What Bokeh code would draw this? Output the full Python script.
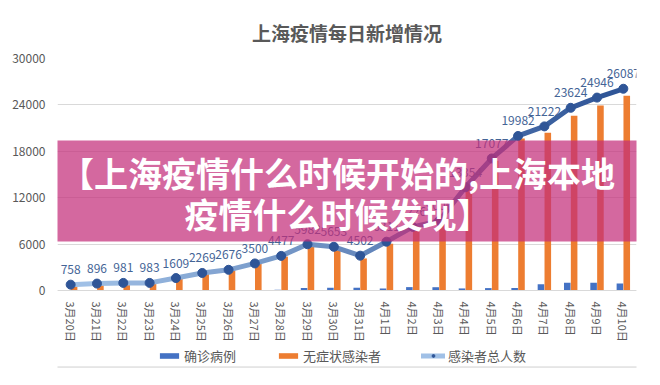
from bokeh.plotting import figure
from bokeh.models import (ColumnDataSource, Legend, LegendItem, BoxAnnotation, Label,
                          FactorRange, Range1d, FixedTicker)
from bokeh.transform import dodge
from bokeh.core.properties import value
from bokeh.embed import file_html
from bokeh.resources import INLINE

# ---- data ----
dates = ["3月20日", "3月21日", "3月22日", "3月23日", "3月24日", "3月25日", "3月26日",
         "3月27日", "3月28日", "3月29日", "3月30日", "3月31日", "4月1日", "4月2日",
         "4月3日", "4月4日", "4月5日", "4月6日", "4月7日", "4月8日", "4月9日", "4月10日"]
confirmed = [24, 31, 4, 4, 29, 38, 45, 50, 96, 326, 355, 358, 260, 438, 425, 268,
             311, 322, 824, 1015, 1006, 914]
asymptomatic = [734, 865, 977, 979, 1580, 2231, 2631, 3450, 4381, 5656, 5298, 4144,
                6051, 7788, 8581, 13086, 16766, 19660, 20398, 22609, 23937, 25173]
total = [758, 896, 981, 983, 1609, 2269, 2676, 3500, 4477, 5982, 5653, 4502, 6311,
         8226, 9006, 13354, 17077, 19982, 21222, 23624, 24946, 26087]
y_ticks = [0, 6000, 12000, 18000, 24000, 30000]

title_text = "上海疫情每日新增情况"
series_names = ["确诊病例", "无症状感染者", "感染者总人数"]
banner_lines = ["【上海疫情什么时候开始的,上海本地", "疫情什么时候发现】"]

FONT = "Noto Sans CJK SC"
GRAY = "#595959"

src = ColumnDataSource(dict(date=dates, confirmed=confirmed, asym=asymptomatic,
                            total=total, label=[str(v) for v in total]))

# frame extends below zero so that category labels and legend sit inside it
p = figure(x_range=FactorRange(*dates), y_range=Range1d(-10086, 30000),
           frame_width=579, frame_height=310, output_backend="svg", toolbar_location=None,
           min_border_left=57, min_border_right=8, min_border_top=58,
           min_border_bottom=0, title=title_text)
p.outline_line_color = None
p.background_fill_color = "white"
p.border_fill_color = "white"

p.title.align = "center"
p.title.text_font = FONT
p.title.text_font_size = "19px"
p.title.text_font_style = "bold"
p.title.text_color = GRAY
p.title.offset = -15
p.title.standoff = 26

# axes
p.yaxis.ticker = FixedTicker(ticks=y_ticks)
p.yaxis.axis_line_color = None
p.yaxis.major_tick_line_color = None
p.yaxis.minor_tick_line_color = None
p.yaxis.major_tick_out = 0
p.yaxis.major_label_standoff = 12
p.yaxis.major_label_text_font = FONT
p.yaxis.major_label_text_font_size = "12px"
p.yaxis.major_label_text_color = GRAY

p.xaxis.fixed_location = 0
p.xaxis.axis_line_color = "#D9D9D9"
p.xaxis.major_tick_line_color = None
p.xaxis.major_tick_out = 0
p.xaxis.major_tick_in = 0
p.xaxis.major_label_orientation = "vertical"
p.xaxis.major_label_standoff = 11
p.xaxis.major_label_text_font = FONT
p.xaxis.major_label_text_font_size = "11px"
p.xaxis.major_label_text_color = GRAY

p.xgrid.grid_line_color = None
p.ygrid.grid_line_color = "#D9D9D9"

# bars
r_conf = p.vbar(x=dodge("date", -0.13, range=p.x_range), top="confirmed", width=0.25,
                source=src, fill_color="#4472C4", line_color=None)
r_asym = p.vbar(x=dodge("date", 0.13, range=p.x_range), top="asym", width=0.25,
                source=src, fill_color="#ED7D31", line_color=None)

# line with gradient (light -> dark)
def lerp(c0, c1, t):
    return "#%02x%02x%02x" % tuple(int(round(a + (b - a) * t)) for a, b in zip(c0, c1))

n = len(dates)
seg_colors = [lerp((160, 192, 230), (47, 85, 151), i / (n - 2)) for i in range(n - 1)]
seg_src = ColumnDataSource(dict(x0=dates[:-1], x1=dates[1:], y0=total[:-1], y1=total[1:],
                                color=seg_colors))
r_line = p.segment(x0="x0", y0="y0", x1="x1", y1="y1", source=seg_src,
                   line_color="color", line_width=5, line_cap="round")
r_pts = p.scatter(x="date", y="total", source=src, size=9, fill_color="#2F5597",
                  line_color="#2F5597", marker="circle")

p.text(x="date", y="total", text="label", source=src, text_align="center",
       text_baseline="middle", y_offset=-15, text_font=value(FONT),
       text_font_size="12px", text_color="#446496")

legend = Legend(items=[LegendItem(label=series_names[0], renderers=[r_conf]),
                       LegendItem(label=series_names[1], renderers=[r_asym]),
                       LegendItem(label=series_names[2], renderers=[r_line, r_pts])],
                orientation="horizontal", location=(100, 3), spacing=40,
                glyph_width=24, glyph_height=7, label_standoff=3, label_height=16,
                label_text_font=FONT, label_text_font_size="13px",
                label_text_color=GRAY, border_line_color=None,
                background_fill_alpha=0, padding=0, margin=0)
p.add_layout(legend, "center")

# outer frame
p.add_layout(BoxAnnotation(left=-2.1, right=22.46, bottom=-9900, top=37240,
                           fill_alpha=0, line_color="#CFCFCF", line_alpha=1, line_width=1))

# pink banner
p.add_layout(BoxAnnotation(left=-3, right=22.35, bottom=6340, top=19400,
                           fill_color="#C42E7A", fill_alpha=0.72, line_color=None))
p.add_layout(Label(x=10.64, y=15260, text=banner_lines[0], text_align="center",
                   text_baseline="middle", text_font=FONT, text_font_size="34px",
                   text_font_style="bold", text_color="white"))
p.add_layout(Label(x=10.64, y=9960, text=banner_lines[1], text_align="center",
                   text_baseline="middle", text_font=FONT, text_font_size="34px",
                   text_font_style="bold", text_color="white"))

open("out.html", "w").write(file_html(p, INLINE))
